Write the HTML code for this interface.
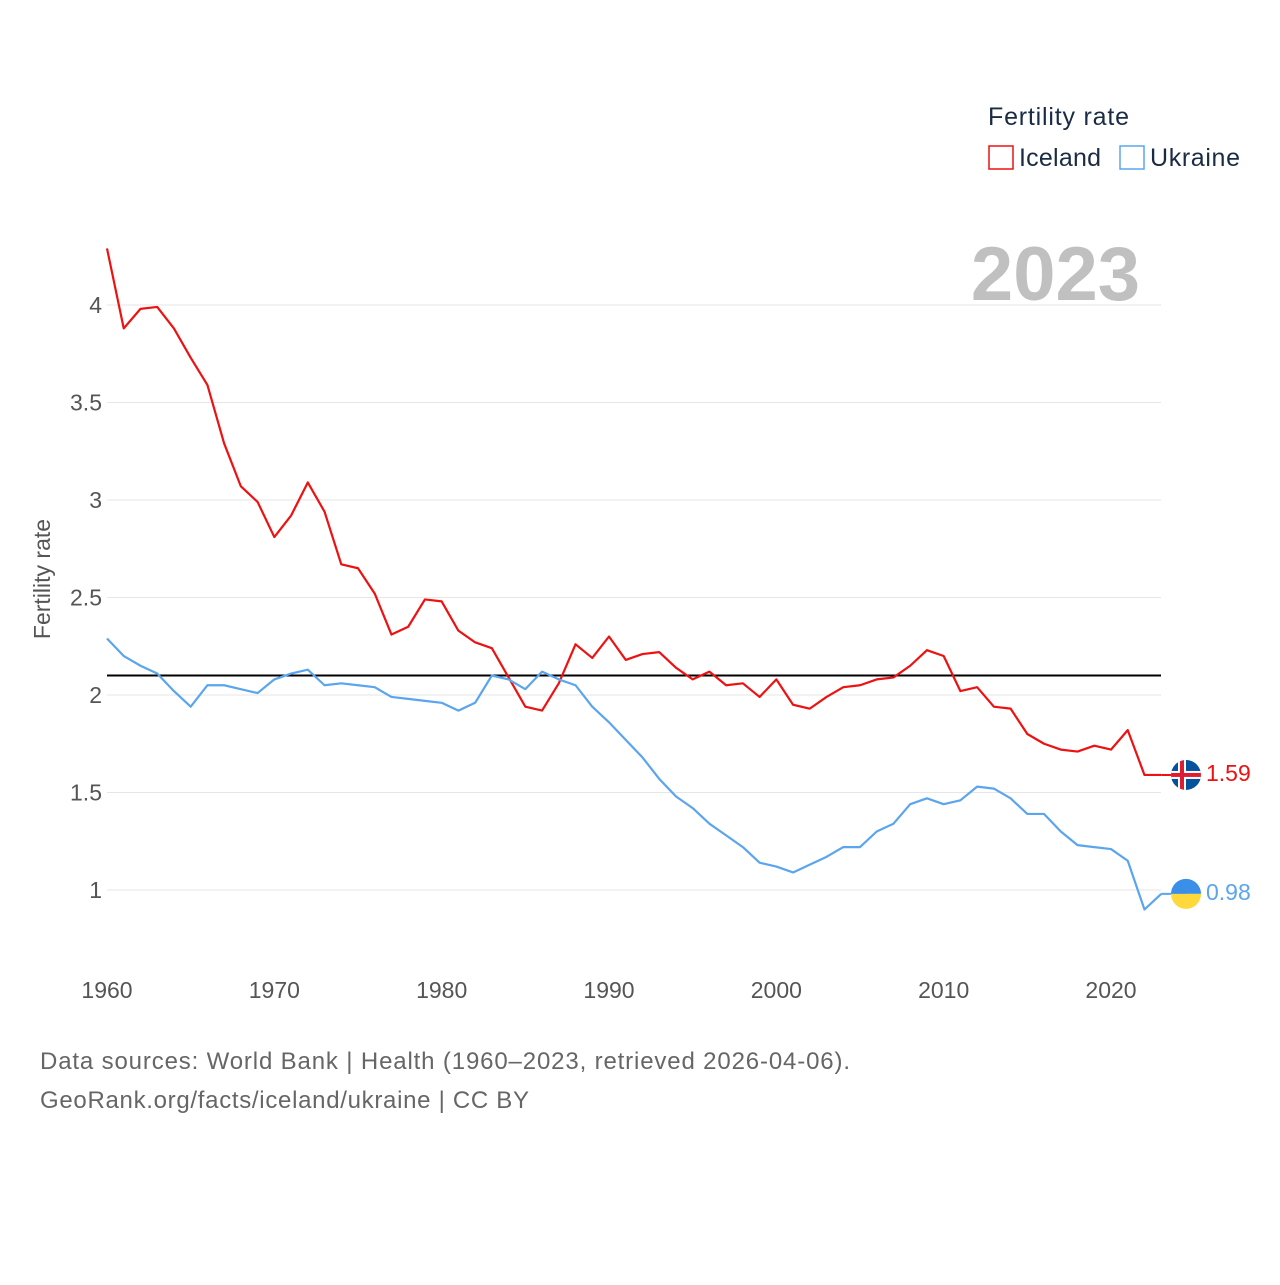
<!DOCTYPE html>
<html><head><meta charset="utf-8"><style>
body{margin:0;background:#fff;font-family:"Liberation Sans",sans-serif;}
svg text{font-family:"Liberation Sans",sans-serif;}
</style></head><body>
<svg id="c" width="1280" height="1280" viewBox="0 0 1280 1280">
<g>
<text x="988" y="125" font-size="25" fill="#1a2b44" textLength="141">Fertility rate</text>
<rect x="989" y="146" width="24" height="23" fill="none" stroke="#ee1111" stroke-width="1.5"/>
<text x="1019" y="166" font-size="25" fill="#1a2b44" textLength="82">Iceland</text>
<rect x="1120" y="146" width="24" height="23" fill="none" stroke="#5aa5ee" stroke-width="1.5"/>
<text x="1150" y="166" font-size="25" fill="#1a2b44" textLength="90">Ukraine</text>
</g>
<text x="1140" y="300" font-size="76" font-weight="bold" fill="#c0c0c0" text-anchor="end">2023</text>
<text transform="translate(50,579) rotate(-90)" font-size="23" fill="#555" text-anchor="middle">Fertility rate</text>
<g id="grid"></g><g id="series"></g>
<text x="40" y="1069" font-size="24" fill="#666" textLength="810">Data sources: World Bank | Health (1960–2023, retrieved 2026-04-06).</text>
<text x="40" y="1108" font-size="24" fill="#666" textLength="489">GeoRank.org/facts/iceland/ukraine | CC BY</text>
</svg>
<script>
const years=[];for(let y=1960;y<=2023;y++)years.push(y);
const iceland=[4.29,3.88,3.98,3.99,3.88,3.73,3.59,3.29,3.07,2.99,2.81,2.92,3.09,2.94,2.67,2.65,2.52,2.31,2.35,2.49,2.48,2.33,2.27,2.24,2.09,1.94,1.92,2.06,2.26,2.19,2.30,2.18,2.21,2.22,2.14,2.08,2.12,2.05,2.06,1.99,2.08,1.95,1.93,1.99,2.04,2.05,2.08,2.09,2.15,2.23,2.20,2.02,2.04,1.94,1.93,1.80,1.75,1.72,1.71,1.74,1.72,1.82,1.59,1.59];
const ukraine=[2.29,2.20,2.15,2.11,2.02,1.94,2.05,2.05,2.03,2.01,2.08,2.11,2.13,2.05,2.06,2.05,2.04,1.99,1.98,1.97,1.96,1.92,1.96,2.10,2.08,2.03,2.12,2.08,2.05,1.94,1.86,1.77,1.68,1.57,1.48,1.42,1.34,1.28,1.22,1.14,1.12,1.09,1.13,1.17,1.22,1.22,1.30,1.34,1.44,1.47,1.44,1.46,1.53,1.52,1.47,1.39,1.39,1.30,1.23,1.22,1.21,1.15,0.90,0.98];
const yTicks=[1,1.5,2,2.5,3,3.5,4];
const xTicks=[1960,1970,1980,1990,2000,2010,2020];
const replacement=2.1;
const X=y=>107+(y-1960)*1004/60;
const Y=v=>890-(v-1)*195;
const NS="http://www.w3.org/2000/svg";
const mk=(t,a,p)=>{const e=document.createElementNS(NS,t);for(const k in a)e.setAttribute(k,a[k]);p.appendChild(e);return e;};
const g=document.getElementById('grid'),s=document.getElementById('series');
yTicks.forEach(v=>{
 const l=mk('line',{x1:107,x2:1161,y1:Y(v),y2:Y(v),stroke:'#e6e6e6','stroke-width':1},g);
 
 
 const t=mk('text',{x:102,y:Y(v)+8,'font-size':23,fill:'#555','text-anchor':'end'},g);
 t.textContent=String(v);
 
 
});
xTicks.forEach(v=>{
 const t=mk('text',{x:X(v),y:998,'font-size':23,fill:'#555','text-anchor':'middle'},g);
 t.textContent=String(v);
 
 
});
const rl=mk('line',{x1:107,x2:1161,y1:Y(replacement),y2:Y(replacement),stroke:'#000','stroke-width':2},g);


function series(vals,col,name){
 const p=mk('polyline',{points:vals.map((v,i)=>X(years[i])+','+Y(v)).join(' '),fill:'none',stroke:col,'stroke-width':2.2,'stroke-linejoin':'round'},s);
 
 
 const lv=vals[vals.length-1];
 const ly=Y(lv);
 mk('line',{x1:X(2023),x2:1186,y1:ly,y2:ly,stroke:col,'stroke-width':2},s);
 return ly;
}
const yi=series(iceland,'#ee1111','iceland');
const yu=series(ukraine,'#5aa5ee','ukraine');
const fi=mk('g',{},s);


mk('clipPath',{id:'ci'},fi).appendChild(document.createElementNS(NS,'circle'));
const cc=fi.querySelector('circle');cc.setAttribute('cx',1186);cc.setAttribute('cy',yi);cc.setAttribute('r',15);
const gi=mk('g',{'clip-path':'url(#ci)'},fi);
mk('rect',{x:1171,y:yi-15,width:30,height:30,fill:'#02529c'},gi);
mk('rect',{x:1171,y:yi-4,width:30,height:8,fill:'#fff'},gi);
mk('rect',{x:1178,y:yi-15,width:8,height:30,fill:'#fff'},gi);
mk('rect',{x:1171,y:yi-2,width:30,height:4,fill:'#dc1e35'},gi);
mk('rect',{x:1180,y:yi-15,width:4,height:30,fill:'#dc1e35'},gi);
const ti=mk('text',{x:1206,y:yi+6,'font-size':23,fill:'#ee1111'},s);
ti.textContent=iceland[iceland.length-1].toFixed(2);


const fu=mk('g',{},s);


mk('path',{d:`M1171 ${yu} A15 15 0 0 1 1201 ${yu} Z`,fill:'#3b8fe8'},fu);
mk('path',{d:`M1171 ${yu} A15 15 0 0 0 1201 ${yu} Z`,fill:'#ffd83b'},fu);
const tu=mk('text',{x:1206,y:yu+6,'font-size':23,fill:'#5aa5ee'},s);
tu.textContent=ukraine[ukraine.length-1].toFixed(2);


</script>
</body></html>
